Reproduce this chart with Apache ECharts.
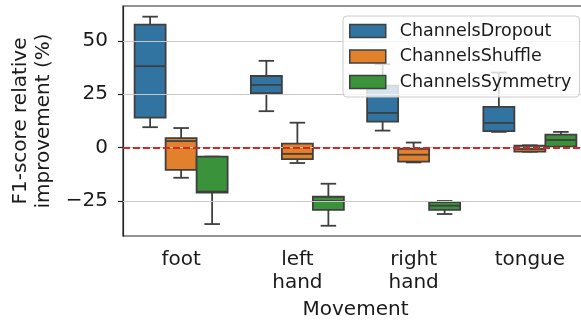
<!DOCTYPE html>
<html>
<head>
<meta charset="utf-8">
<script src="https://cdn.jsdelivr.net/npm/echarts@6/dist/echarts.min.js"></script>
<style>
html,body{margin:0;padding:0;background:#fff;}
#chart{width:581px;height:324px;}
</style>
</head>
<body>
<div id="chart"></div>
<script>
// Categories and tick labels
const categories = ['foot', 'left\nhand', 'right\nhand', 'tongue'];
const yTicks = [-25, 0, 25, 50];
const seriesNames = ['ChannelsDropout', 'ChannelsShuffle', 'ChannelsSymmetry'];
// Box statistics per category: [min, q1, median, q3, max]
const dropout = [
  [9.5, 14.0, 38.1, 57.6, 61.3],
  [17.0, 25.5, 29.3, 33.5, 40.6],
  [7.9, 12.1, 16.2, 29.0, 39.0],
  [7.3, 7.7, 11.5, 19.0, 35.1]
];
const shuffle = [
  [-14.2, -10.5, 3.0, 4.4, 9.1],
  [-7.3, -5.5, -3.0, 1.8, 11.6],
  [-7.0, -6.6, -3.4, -0.6, 2.3],
  [-2.0, -2.0, -0.7, 0.8, 1.0]
];
const symmetry = [
  [-35.9, -21.2, -20.7, -4.3, -4.3],
  [-36.7, -29.3, -25.1, -23.1, -17.0],
  [-31.2, -29.3, -27.3, -25.6, -25.1],
  [0.4, 0.4, 3.5, 6.0, 7.3]
];
const colors = ['#3274a1', '#e1812c', '#3a923a'];
const edge = '#3f3f3f';
const textColor = '#1a1a1a';
const gridLineValues = [-25, 0, 25, 50];
const refLineValue = 0;

function toData(arr) {
  return arr.map((d, i) => [i].concat(d));
}

function makeRender(idx) {
  return function (params, api) {
    const x = api.value(0);
    const band = api.size([1, 0])[0];
    const w = band * 0.8 / 3;
    const cx = api.coord([x, 0])[0] + (idx - 1) * w;
    const yMin = api.coord([x, api.value(1)])[1];
    const yQ1 = api.coord([x, api.value(2)])[1];
    const yMed = api.coord([x, api.value(3)])[1];
    const yQ3 = api.coord([x, api.value(4)])[1];
    const yMax = api.coord([x, api.value(5)])[1];
    const fill = api.visual('color');
    const ls = { stroke: edge, lineWidth: 1.8 };
    const cap = w / 4;
    return {
      type: 'group',
      children: [
        { type: 'line', shape: { x1: cx, y1: yMax, x2: cx, y2: yQ3 }, style: ls },
        { type: 'line', shape: { x1: cx, y1: yQ1, x2: cx, y2: yMin }, style: ls },
        { type: 'line', shape: { x1: cx - cap, y1: yMax, x2: cx + cap, y2: yMax }, style: ls },
        { type: 'line', shape: { x1: cx - cap, y1: yMin, x2: cx + cap, y2: yMin }, style: ls },
        { type: 'rect', shape: { x: cx - w / 2, y: yQ3, width: w, height: yQ1 - yQ3 },
          style: { fill: fill, stroke: edge, lineWidth: 1.8 } },
        { type: 'line', shape: { x1: cx - w / 2, y1: yMed, x2: cx + w / 2, y2: yMed }, style: ls }
      ]
    };
  };
}

const boxSeries = [dropout, shuffle, symmetry].map((arr, i) => ({
  name: seriesNames[i],
  type: 'custom',
  renderItem: makeRender(i),
  data: toData(arr),
  encode: { x: 0, y: [1, 2, 3, 4, 5] },
  itemStyle: { color: colors[i] },
  z: 2,
  silent: true
}));

const chart = echarts.init(document.getElementById('chart'), null, { renderer: 'canvas' });
chart.setOption({
  animation: false,
  textStyle: { fontFamily: 'DejaVu Sans' },
  grid: { left: 123, width: 465, top: 6, bottom: 88, outerBoundsMode: 'none', containLabel: false,
    show: true, borderColor: '#262626', borderWidth: 1.2, backgroundColor: 'transparent' },
  legend: {
    data: seriesNames,
    orient: 'vertical',
    left: 343, top: 16,
    icon: 'rect',
    itemWidth: 36, itemHeight: 13,
    itemGap: 7.5,
    padding: [6, 8, 6, 6],
    backgroundColor: 'rgba(255,255,255,0.8)',
    borderColor: '#cccccc', borderWidth: 1, borderRadius: 4,
    itemStyle: { borderColor: edge, borderWidth: 1.5 },
    textStyle: { fontSize: 17.5, lineHeight: 18, color: textColor, fontFamily: 'DejaVu Sans', padding: [0, 0, 0, 9] },
    selectedMode: false,
    z: 10
  },
  xAxis: {
    type: 'category',
    data: categories,
    axisLine: { show: true, lineStyle: { color: '#262626', width: 1.2 } },
    axisTick: { show: true, alignWithLabel: true, length: 5, lineStyle: { color: '#262626', width: 1.2 } },
    axisLabel: { fontSize: 20, lineHeight: 23, margin: 12, color: textColor, fontFamily: 'DejaVu Sans' },
    splitLine: { show: false },
    name: 'Movement',
    nameLocation: 'middle',
    nameGap: 64,
    nameTextStyle: { fontSize: 20, lineHeight: 20, color: textColor, fontFamily: 'DejaVu Sans' }
  },
  yAxis: {
    type: 'value',
    min: -41.5, max: 66.3,
    axisLine: { show: true, lineStyle: { color: '#262626', width: 1.2 } },
    axisTick: { show: true, length: 5, customValues: yTicks, lineStyle: { color: '#262626', width: 1.2 } },
    axisLabel: { customValues: yTicks, fontSize: 20, margin: 15, color: textColor, fontFamily: 'DejaVu Sans',
      formatter: v => String(v).replace('-', '\u2212') },
    splitLine: { show: false },
    name: 'F1-score relative\nimprovement (%)',
    nameLocation: 'middle',
    nameRotate: 90,
    nameGap: 66,
    nameTextStyle: { fontSize: 20, lineHeight: 23, color: textColor, fontFamily: 'DejaVu Sans' }
  },
  series: boxSeries.concat([{
    name: 'lines',
    type: 'line',
    data: [],
    z: 3,
    silent: true,
    markLine: {
      silent: true,
      symbol: 'none',
      label: { show: false },
      animation: false,
      data: gridLineValues.map(v => ({ yAxis: v, lineStyle: { color: '#c8c8c8', width: 1.2, type: 'solid' } }))
        .concat([{ yAxis: refLineValue, lineStyle: { color: '#d62728', width: 1.8, type: [7, 3] } }])
    }
  }])
});
</script>
</body>
</html>
